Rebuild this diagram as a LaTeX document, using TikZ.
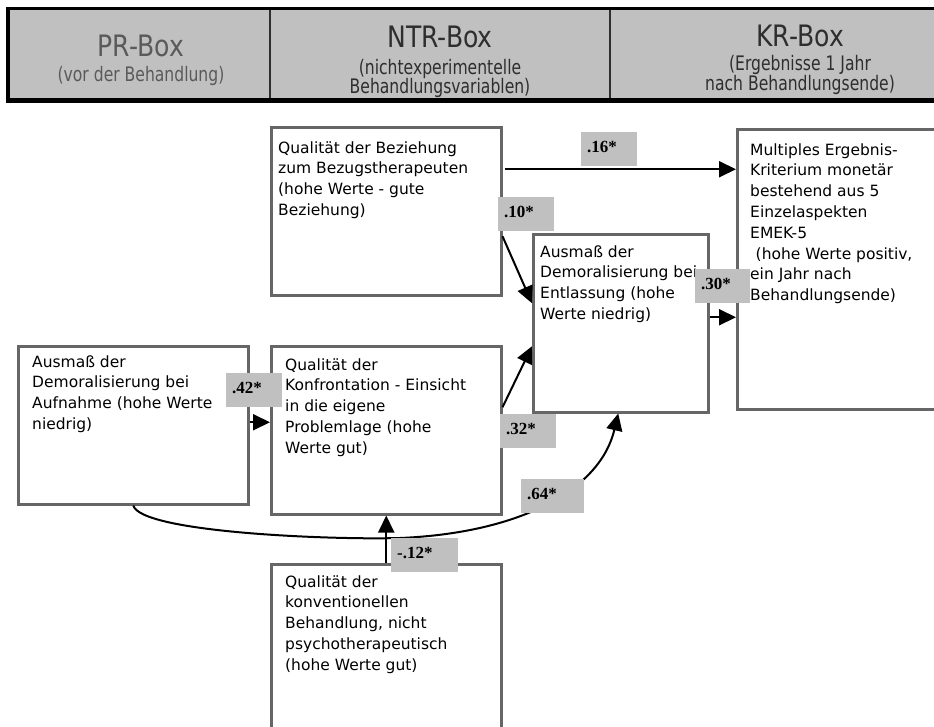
\documentclass[tikz,border=0pt]{standalone}
\usepackage{fontspec}
\setmainfont{DejaVu Sans}
\newfontfamily\hdfont[FakeStretch=0.85]{DejaVu Sans}
\newfontfamily\hdsubfont[FakeStretch=0.78]{DejaVu Sans}
\newfontfamily\lblfont{Liberation Serif}
\usetikzlibrary{arrows.meta}
\definecolor{hdgray}{HTML}{C0C0C0}
\definecolor{lblgray}{HTML}{C0C0C0}
\definecolor{boxline}{HTML}{666666}
\definecolor{prtext}{HTML}{5A5A5A}
\definecolor{ntrtext}{HTML}{2E2E2E}
\tikzset{
  vbox/.style={draw=boxline, line width=2.5pt, fill=white, inner sep=0pt, anchor=north west},
  btext/.style={anchor=north west, inner sep=0pt, align=left, text=black, font=\fontsize{15.5}{20.8}\selectfont},
  hdtitle/.style={anchor=base, inner sep=0pt, font=\hdfont\fontsize{29.5}{32}\selectfont},
  hdsub/.style={anchor=base, inner sep=0pt, align=center, font=\hdsubfont\fontsize{20}{20}\selectfont},
  lbl/.style={fill=lblgray, anchor=north west, inner xsep=6pt, inner ysep=0pt, text height=20pt, text depth=14pt, text width=#1, align=left, font=\lblfont\bfseries\fontsize{17}{18}\selectfont},
  lbl/.default=44pt,
  arr/.style={line width=2pt, black, -{Triangle[length=17pt,width=16pt]}},
}
\begin{document}
\begin{tikzpicture}[x=1pt,y=-1pt]
\useasboundingbox (0,0) rectangle (934,726);
\clip (0,0) rectangle (934,726);
% header
\fill[hdgray] (8,8) rectangle (950,100);
\draw[line width=3pt] (6,8.5) -- (950,8.5);
\draw[line width=5pt] (6,100.5) -- (950,100.5);
\draw[line width=4pt] (8,7) -- (8,103);
\draw[ntrtext, line width=1.5pt] (270,10) -- (270,98);
\draw[ntrtext, line width=1.5pt] (610,10) -- (610,98);
\node[hdtitle, text=prtext] (prt) at (141,56) {PR-Box};
\node[hdsub, text=prtext] (prs) at (141,81) {(vor der Behandlung)};
\node[hdtitle, text=ntrtext] (ntrt) at (440,47) {NTR-Box};
\node[hdsub, text=ntrtext] (ntrs1) at (440,74) {(nichtexperimentelle};
\node[hdsub, text=ntrtext] (ntrs2) at (440,93) {Behandlungsvariablen)};
\node[hdtitle, text=ntrtext] (krt) at (800,46) {KR-Box};
\node[hdsub, text=ntrtext] (krs1) at (800,70) {(Ergebnisse 1 Jahr};
\node[hdsub, text=ntrtext] (krs2) at (800,90) {nach Behandlungsende)};
% boxes
\node[vbox, minimum width=230pt, minimum height=168pt] (b1) at (270,126) {};
\node[vbox, minimum width=175pt, minimum height=178pt] (b2) at (532,233) {};
\node[vbox, minimum width=215pt, minimum height=280pt] (b3) at (736,128) {};
\node[vbox, minimum width=230pt, minimum height=158pt] (b4) at (17,345) {};
\node[vbox, minimum width=230pt, minimum height=168pt] (b5) at (270,345) {};
\node[vbox, minimum width=230pt, minimum height=180pt] (b6) at (270,563) {};
% box texts
\node[btext] (t1) at (278,141.2) {Qualität der Beziehung\\zum Bezugstherapeuten\\(hohe Werte - gute\\Beziehung)};
\node[btext] (t2) at (540,245.2) {Ausmaß der\\Demoralisierung bei\\Entlassung (hohe\\Werte niedrig)};
\node[btext] (t3) at (750,143.2) {Multiples Ergebnis-\\Kriterium monetär\\bestehend aus 5\\Einzelaspekten\\EMEK-5\\\hspace*{5.5pt}(hohe Werte positiv,\\ein Jahr nach\\Behandlungsende)};
\node[btext] (t4) at (32,355.2) {Ausmaß der\\Demoralisierung bei\\Aufnahme (hohe Werte\\niedrig)};
\node[btext] (t5) at (285,358.2) {Qualität der\\Konfrontation - Einsicht\\in die eigene\\Problemlage (hohe\\Werte gut)};
\node[btext] (t6) at (285,575.2) {Qualität der\\konventionellen\\Behandlung, nicht\\psychotherapeutisch\\(hohe Werte gut)};
% connectors
\draw[arr] ([yshift=42pt,xshift=2pt]b1.east) coordinate (a1s) -- (a1s -| b3.west);
\draw[arr] ([yshift=-25pt]b1.east) -- ([yshift=20pt]b2.west);
\draw[arr] ([yshift=23pt]b5.east) -- ([yshift=-23pt]b2.west);
\draw[arr] ([yshift=6pt]b2.east) coordinate (a4s) -- (a4s -| b3.west);
\draw[arr] ([yshift=3pt]b4.east) coordinate (a5s) -- (a5s -| b5.west);
\draw[arr] (b6.north) -- (b5.south);
\draw[arr] (b4.south) .. controls +(8,27) and (330,540) .. (400,538) .. controls (520,533) and (600,490) .. ([xshift=-2.5pt]b2.south);
% labels
\node[lbl] (l16) at (581,132) {.16*};
\node[lbl] (l10) at (498,197) {.10*};
\node[lbl=43pt] (l30) at (695,269) {.30*};
\node[lbl] (l42) at (226,373) {.42*};
\node[lbl] (l32) at (500,414) {.32*};
\node[lbl=51pt] (l64) at (521,479) {.64*};
\node[lbl=55pt] (l12) at (391,538) {-.12*};
\end{tikzpicture}
\end{document}
